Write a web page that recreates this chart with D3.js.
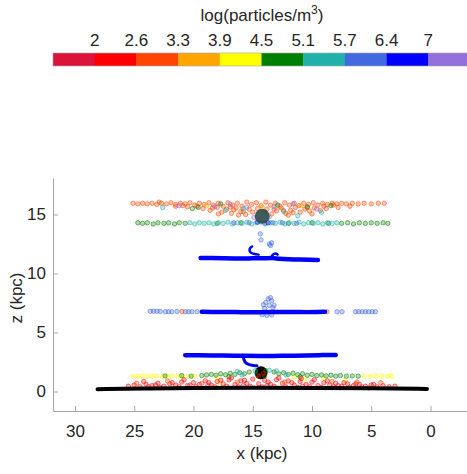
<!DOCTYPE html>
<html>
<head>
<meta charset="utf-8">
<script src="https://cdn.jsdelivr.net/npm/d3@7"></script>
<style>
  body { margin: 0; background: #fff; }
  text { font-family: "Liberation Sans", Arial, sans-serif; fill: #262626; }
</style>
</head>
<body>
<div id="chart"></div>
<script>
// colour bar
const cbColors = ["#DC143C", "#FF0000", "#FF4500", "#FFA500", "#FFFF00",
                  "#008000", "#20B2AA", "#4169E1", "#0000FF", "#9370DB"];
const cbTicks = ["2", "2.6", "3.3", "3.9", "4.5", "5.1", "5.7", "6.4", "7"];

const xTicks = [30, 25, 20, 15, 10, 5, 0];
const zTicks = [0, 5, 10, 15];

// scattered particles [x kpc, z kpc], one array per colour
const topOrange = [[25.1,15.95],[24.7,15.9],[24.3,15.95],[23.9,15.9],[23.5,15.95],[23.1,15.85],[22.7,15.95],[22.3,15.9],[21.9,16.0],[21.5,15.85],[21.1,15.95],[20.7,15.9],[20.3,16.0],[19.9,15.8],[19.5,15.95],[19.1,15.85],[18.7,16.0],[18.3,15.8],[17.9,15.95],[17.5,15.7],[17.1,16.0],[16.7,15.8],[16.3,15.95],[15.9,15.7],[15.5,16.05],[15.1,15.85],[14.7,16.0],[14.3,15.75],[13.9,16.05],[13.5,15.8],[13.1,15.95],[12.7,15.7],[12.3,16.0],[11.9,15.8],[11.5,15.95],[11.1,15.75],[10.7,15.95],[10.3,15.85],[9.9,16.0],[9.5,15.8],[9.1,15.95],[8.7,15.85],[8.3,15.95],[7.9,15.9],[7.5,15.95],[7.1,15.9],[6.6,15.95],[6.1,15.9],[5.6,15.95],[5.0,15.9],[4.4,15.95],[3.9,15.95],
  [19.2,15.5],[18.6,15.35],[18.0,15.6],[17.6,15.2],[17.2,15.45],[16.8,15.1],[16.4,15.55],[16.0,15.25],[15.6,15.0],[15.3,15.45],[15.0,15.2],[14.6,15.5],[13.8,15.45],[13.4,15.05],[13.0,15.3],[12.6,15.55],[12.2,15.1],[11.8,15.35],[11.4,15.6],[11.0,15.2],[10.6,15.45],[10.2,15.3],[9.8,15.55],[9.3,15.35],[8.8,15.5],[20.5,15.65],[21.5,15.7],[7.8,15.6],[6.8,15.7],[16.2,14.95],[12.0,14.95],[17.9,15.05],[10.0,15.05],
  [22.9,16.05],[20.9,15.75],[19.7,15.7],[18.4,15.55],[16.6,15.4],[15.8,15.25],[13.2,15.45],[12.4,15.35],[11.6,15.15],[10.4,15.6],[9.0,15.7],[8.2,15.8],[16.9,15.65],[14.0,15.2]];
const topPurple = [[18.2,15.65],[16.9,15.85],[15.5,15.6],[13.2,15.65],[11.6,15.9],[9.6,15.45],[21.2,15.75],[13.6,14.8],[14.9,14.75]];
const topGreen = [[20.1,15.5],[17.7,15.9],[12.9,15.8],[10.4,15.65],[8.4,15.75],[19.6,15.6]];
const topTeal = [[22.6,15.6],[17.3,15.35],[12.4,15.25],[15.8,15.5],[11.2,14.9],[9.2,15.2]];
const topAmber = [[18.9,15.75],[14.2,15.6],[10.9,15.75]];

const rowGreen = [[24.7,14.3],[24.3,14.25],[23.9,14.3],[23.4,14.2],[23.0,14.3],[22.5,14.25],[22.1,14.3],[21.6,14.2],[21.2,14.3],[20.7,14.25],
  [7.5,14.25],[7.0,14.3],[6.5,14.2],[6.0,14.3],[5.5,14.25],[5.0,14.3],[4.5,14.25],[4.0,14.3],[3.6,14.25],
  [18.0,14.25],[16.0,14.3],[12.0,14.25],[10.0,14.3],[8.6,14.25]];
const rowTeal = [[20.3,14.3],[19.9,14.2],[19.5,14.3],[19.1,14.25],[18.7,14.3],[18.3,14.2],[17.9,14.3],[17.5,14.25],[17.1,14.35],[16.7,14.2],[16.3,14.3],[15.9,14.25],[15.5,14.35],[15.1,14.2],[14.7,14.3],[14.3,14.35],[13.9,14.2],[13.5,14.3],[13.1,14.25],[12.7,14.35],[12.3,14.2],[11.9,14.3],[11.5,14.25],[11.1,14.35],[10.7,14.2],[10.3,14.3],[9.9,14.25],[9.5,14.3],[9.1,14.2],[8.7,14.3],[8.3,14.25],[7.9,14.3]];
const rowRoyal = [[15.3,14.3],[14.0,14.25],[13.3,14.3],[12.5,14.3],[11.3,14.25],[16.6,14.3],
  [14.36,13.36],[14.3,12.85],[13.6,12.5],[13.4,12.6],[13.5,12.37]];
const rowBlue = [[13.7,14.3],[14.6,14.35]];

const midRoyal = [[23.65,6.8],[23.37,6.8],[23.08,6.8],[22.8,6.78],[22.38,6.76],[22.1,6.76],[21.82,6.76],[21.39,6.78],[20.69,6.76],[20.41,6.76],[20.13,6.76],[19.7,6.76],
  [7.88,6.76],[7.46,6.76],[6.33,6.76],[6.06,6.76],[5.77,6.76],[5.49,6.76],[5.21,6.76],[4.92,6.76],[4.65,6.76],
  [14.0,7.05],[13.6,7.3],[13.9,7.55],[13.4,7.7],[13.2,7.3],[13.7,7.85],[13.3,7.1],[14.1,7.35],[13.5,7.95],[14.2,6.5],[13.8,6.45],[13.4,6.5]];
const midOrange = [[20.97,6.78],[8.73,6.76]];

const lowYellow = [[25.1,1.3],[24.7,1.28],[24.3,1.32],[23.9,1.3],[23.5,1.28],[23.1,1.32],[22.6,1.3],[22.2,1.28],[21.8,1.32],[21.3,1.3],[20.9,1.3],[20.4,1.28],[19.9,1.32],
  [5.6,1.3],[5.1,1.28],[4.6,1.32],[4.1,1.3],[3.6,1.3],[3.3,1.3],[18.0,1.2],[11.5,1.2],[9.0,1.15],
  [17.8,0.7],[10.6,1.05],[7.2,0.95],[21.7,0.3]];
const lowGreen = [[19.3,1.35],[18.9,1.4],[18.5,1.45],[18.1,1.38],[17.7,1.5],[17.3,1.42],[16.9,1.55],[16.5,1.45],[16.1,1.6],[15.7,1.5],[15.3,1.65],[13.2,1.65],[12.8,1.5],[12.4,1.6],[12.0,1.45],[11.6,1.55],[11.2,1.42],[10.8,1.5],[10.4,1.38],[10.0,1.45],[9.6,1.35],[9.2,1.4],[8.8,1.32],[8.4,1.38],[8.0,1.3],[7.6,1.35],[7.1,1.3],[6.6,1.32],[6.1,1.3],[17.0,1.25],[14.0,1.3],[11.0,1.25],[20.2,1.3],[21.0,1.35],[22.4,1.32],[14.6,1.4],[13.9,1.75]];
const lowTeal = [[16.3,1.7],[15.9,1.4],[13.0,1.75],[12.2,1.4],[14.8,1.75],[13.6,1.8]];
const lowRed = [[25.5,0.45],[25.0,0.55],[24.5,0.4],[24.0,0.6],[23.5,0.5],[23.0,0.7],[22.5,0.45],[22.0,0.65],[21.5,0.55],[21.0,0.8],[20.5,0.5],[20.0,0.75],[19.5,0.6],[19.0,0.9],[18.5,0.55],[18.0,0.85],[17.5,0.65],[17.0,1.0],[16.5,0.6],[16.0,0.9],[15.5,0.7],[15.0,1.05],[14.5,0.65],[14.0,0.95],[13.5,0.6],[13.0,1.0],[12.5,0.7],[12.0,0.9],[11.5,0.55],[11.0,0.85],[10.5,0.6],[10.0,0.8],[9.5,0.5],[9.0,0.75],[8.5,0.55],[8.0,0.7],[7.5,0.45],[7.0,0.65],[6.5,0.5],[6.0,0.6],[5.5,0.45],[5.0,0.55],[4.5,0.4],[4.0,0.5],[3.5,0.4],[3.0,0.45],
  [24.2,0.85],[22.8,0.35],[21.2,0.4],[19.8,0.4],[18.2,0.4],[17.2,0.45],[16.2,0.4],[15.2,0.45],[14.2,0.4],[13.2,0.45],[12.2,0.4],[11.2,0.35],[10.2,0.4],[9.2,0.35],[8.2,0.4],[6.8,0.35],[5.2,0.3],[20.8,1.0],[9.8,1.0],[16.8,1.15],[12.8,1.15],[14.5,1.3],[14.1,1.55],
  [23.2,0.55],[21.8,0.75],[18.7,0.75],[17.7,0.95],[15.7,0.95],[13.7,0.8],[11.7,0.75],[10.9,1.1],[8.7,0.9],[7.3,0.75],[6.3,0.65],[4.8,0.6]];
const lowCrimson = [[23.8,0.4],[18.8,0.5],[15.8,0.5],[13.8,0.5],[10.8,0.45],[7.8,0.5],[5.8,0.4],[20.3,0.55]];
const lowOrange = [[24.8,0.7],[19.3,0.7],[16.3,0.8],[12.3,0.8],[8.3,0.85],[6.2,0.8],[22.2,0.9],[4.2,0.75]];

// dense streams drawn as thick traces
const streamHigh = [[19.4,11.32],[18.5,11.32],[17.5,11.3],[16.5,11.28],[15.8,11.25],[15.0,11.3],[14.3,11.28],[13.8,11.3],[13.3,11.32],[12.8,11.24],[12.0,11.2],[11.0,11.18],[10.2,11.15],[9.5,11.15]];
const curlHigh = [[15.06,12.29],[15.26,12.09],[15.2,11.8],[14.92,11.67],[14.5,11.6]];
const bumpHigh = [[13.4,11.4],[13.3,11.6],[13.1,11.7],[12.9,11.6]];
const streamMid = [[19.3,6.76],[18.5,6.74],[17.5,6.72],[16.5,6.75],[15.5,6.7],[14.5,6.72],[13.5,6.75],[12.5,6.72],[11.5,6.74],[10.5,6.72],[9.5,6.74],[8.9,6.76]];
const streamLow = [[20.7,3.08],[19.5,3.06],[18.5,3.05],[17.5,3.05],[16.5,3.04],[15.5,3.03],[14.5,3.02],[13.5,3.0],[12.5,3.02],[11.5,3.04],[10.5,3.06],[9.5,3.08],[8.0,3.1]];
const curlLow = [[15.77,2.77],[15.63,2.48],[15.35,2.29],[14.93,2.2],[14.64,2.18]];
const disk = [[28.1,0.2],[24,0.25],[20,0.3],[15,0.32],[10,0.3],[5,0.27],[0.3,0.22]];

// satellites
const satellites = [{x: 14.2, z: 14.85, color: "#2F4F4F"}, {x: 14.3, z: 1.58, color: "#000000"}];

const width = 467, height = 474;
const margin = {left: 53, right: 470, top: 178, bottom: 411};

const svg = d3.select("#chart").append("svg")
  .attr("width", width)
  .attr("height", height);

// colour bar
const cb = d3.scaleLinear().domain([0, cbColors.length]).range([53, 470]);

svg.append("g")
  .selectAll("rect")
  .data(cbColors)
  .enter().append("rect")
  .attr("x", (d, i) => cb(i))
  .attr("y", 53)
  .attr("width", cb(1) - cb(0) + 0.3)
  .attr("height", 13)
  .attr("fill", d => d);

svg.append("rect")
  .attr("x", cb(0)).attr("y", 53)
  .attr("width", cb(cbColors.length) - cb(0)).attr("height", 13)
  .attr("fill", "none")
  .attr("stroke", "#a6a6a6")
  .attr("stroke-width", 0.6);

svg.append("g")
  .selectAll("text")
  .data(cbTicks)
  .enter().append("text")
  .attr("x", (d, i) => cb(i + 1))
  .attr("y", 46)
  .attr("text-anchor", "middle")
  .style("font-size", "17px")
  .text(d => d);

const title = svg.append("text")
  .attr("x", 262)
  .attr("y", 21)
  .attr("text-anchor", "middle")
  .style("font-size", "17px")
  .text("log(particles/m");
title.append("tspan").attr("dy", -7).style("font-size", "12px").text("3");
title.append("tspan").attr("dy", 7).text(")");

// axes
const x = d3.scaleLinear()
  .domain([(430.5 - margin.left) / 11.85, (430.5 - margin.right) / 11.85])
  .range([margin.left, margin.right]);
const z = d3.scaleLinear()
  .domain([(391.5 - margin.bottom) / 11.8, (391.5 - margin.top) / 11.8])
  .range([margin.bottom, margin.top]);

const xAxis = d3.axisBottom(x).tickValues(xTicks).tickSizeInner(-5).tickSizeOuter(0).tickPadding(8);
const zAxis = d3.axisLeft(z).tickValues(zTicks).tickSizeInner(-5).tickSizeOuter(0).tickPadding(7);

const gx = svg.append("g")
  .attr("transform", "translate(0," + margin.bottom + ")")
  .call(xAxis);
const gz = svg.append("g")
  .attr("transform", "translate(" + margin.left + ",0)")
  .call(zAxis);

[gx, gz].forEach(g => {
  g.selectAll("path, line").attr("stroke", "#a6a6a6");
  g.selectAll("text").style("font-size", "17px").style("font-family", "Liberation Sans, Arial, sans-serif").attr("fill", "#262626");
});
gx.selectAll("text").attr("dy", "1.05em");

svg.append("text")
  .attr("x", 262)
  .attr("y", 459)
  .attr("text-anchor", "middle")
  .style("font-size", "17px")
  .text("x (kpc)");

svg.append("text")
  .attr("transform", "rotate(-90)")
  .attr("x", -298)
  .attr("y", 22)
  .attr("text-anchor", "middle")
  .style("font-size", "17px")
  .text("z (kpc)");

// plot area
const plot = svg.append("g");

const trace = d3.line()
  .x(d => x(d[0]))
  .y(d => z(d[1]))
  .curve(d3.curveBasis);
const curl = d3.line()
  .x(d => x(d[0]))
  .y(d => z(d[1]))
  .curve(d3.curveCatmullRom);

function scatter(pts, color) {
  plot.append("g")
    .selectAll("circle")
    .data(pts)
    .enter().append("circle")
    .attr("cx", d => x(d[0]))
    .attr("cy", d => z(d[1]))
    .attr("r", 2.2)
    .attr("fill", color)
    .attr("fill-opacity", 0.3)
    .attr("stroke", color)
    .attr("stroke-opacity", 0.65)
    .attr("stroke-width", 0.8);
}

function stream(pts, color, w, gen) {
  plot.append("path")
    .datum(pts)
    .attr("d", gen)
    .attr("fill", "none")
    .attr("stroke", color)
    .attr("stroke-width", w)
    .attr("stroke-linecap", "round")
    .attr("stroke-linejoin", "round");
}

// top layer
scatter(topOrange, cbColors[2]);
scatter(topPurple, cbColors[9]);
scatter(topGreen, cbColors[5]);
scatter(topTeal, cbColors[6]);
scatter(topAmber, cbColors[3]);
scatter(rowGreen, cbColors[5]);
scatter(rowTeal, cbColors[6]);
scatter(rowRoyal, cbColors[7]);
scatter(rowBlue, cbColors[8]);

plot.append("circle")
  .attr("cx", x(satellites[0].x))
  .attr("cy", z(satellites[0].z))
  .attr("r", 7.5)
  .attr("fill", satellites[0].color)
  .attr("fill-opacity", 0.92);

// blue streams
stream(streamHigh, cbColors[8], 4.5, trace);
stream(curlHigh, cbColors[8], 2.5, curl);
stream(bumpHigh, cbColors[8], 2.5, curl);
scatter(midRoyal, cbColors[7]);
scatter(midOrange, cbColors[2]);
stream(streamMid, cbColors[8], 4.5, trace);
stream(streamLow, cbColors[8], 4.5, trace);
stream(curlLow, cbColors[8], 3, curl);

// near the disk
plot.append("circle")
  .attr("cx", x(satellites[1].x))
  .attr("cy", z(satellites[1].z))
  .attr("r", 6.5)
  .attr("fill", satellites[1].color);

scatter(lowYellow, cbColors[4]);
scatter(lowGreen, cbColors[5]);
scatter(lowTeal, cbColors[6]);
scatter(lowRed, cbColors[1]);
scatter(lowCrimson, cbColors[0]);
scatter(lowOrange, cbColors[2]);

stream(disk, "#000", 4, trace);
</script>
</body>
</html>
